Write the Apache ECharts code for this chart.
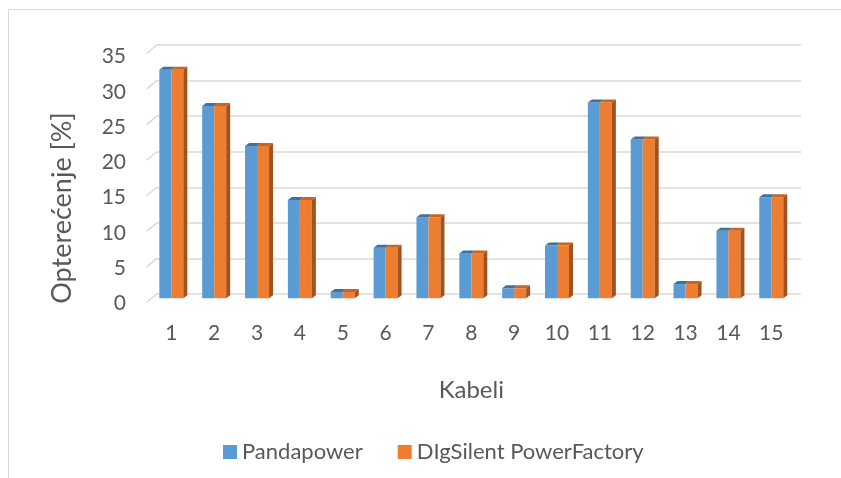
<!DOCTYPE html>
<html>
<head>
<meta charset="utf-8">
<script src="https://cdn.jsdelivr.net/npm/echarts@6/dist/echarts.min.js"></script>
<style>
html,body{margin:0;padding:0;background:#fff;}
#c{width:841px;height:478px;}
</style>
</head>
<body>
<div id="c"></div>
<script>
var categories = ['1','2','3','4','5','6','7','8','9','10','11','12','13','14','15'];
var pandapower = [32.1, 27.0, 21.4, 13.8, 0.9, 7.1, 11.4, 6.3, 1.4, 7.4, 27.5, 22.3, 2.0, 9.5, 14.2];
var digsilent  = [32.1, 27.0, 21.4, 13.8, 0.9, 7.1, 11.4, 6.3, 1.4, 7.4, 27.5, 22.3, 2.0, 9.5, 14.2];
var yTicks = [0, 5, 10, 15, 20, 25, 30, 35];
var seriesNames = ['Pandapower', 'DIgSilent PowerFactory'];

var FONT = 'Lato';
var TXT = '#595959';
var BLUE = '#5B9BD5', BLUE_TOP = '#41719C';
var ORANGE = '#ED7D31', ORANGE_TOP = '#C8641F', ORANGE_SIDE = '#A2521C';
var DX = 4, DY = 3, BW = 12;

var faceData = categories.map(function (c, i) { return [i, pandapower[i], digsilent[i]]; });

var chart = echarts.init(document.getElementById('c'), null, {renderer: 'canvas'});
chart.setOption({
  animation: false,
  backgroundColor: '#fff',
  textStyle: {fontFamily: FONT},
  graphic: [
    {type: 'rect', shape: {x: 8.5, y: 9.5, width: 900, height: 500}, style: {fill: null, stroke: '#d9d9d9', lineWidth: 1}, z: -10},
    {type: 'text', x: 62, y: 208, rotation: Math.PI / 2,
     style: {text: 'Opterećenje [%]', font: '27px ' + FONT, fill: TXT, textAlign: 'center', textVerticalAlign: 'middle'}}
  ],
  legend: {
    data: seriesNames,
    left: 218, top: 436,
    icon: 'rect', itemWidth: 14, itemHeight: 14, itemGap: 35,
    textStyle: {fontFamily: FONT, fontSize: 22, color: TXT}
  },
  grid: [
    {left: 149.9, right: 48.3, top: 49.1, bottom: 179.7},
    {left: 156.7, right: 40, top: 45, bottom: 184},
    {left: 146, right: 40, top: 56.7, bottom: 174.7}
  ],
  xAxis: [
    {gridIndex: 0, type: 'category', data: categories,
     axisLine: {show: false}, axisTick: {show: false},
     axisLabel: {fontFamily: FONT, fontSize: 21, color: TXT, margin: 24},
     name: 'Kabeli', nameLocation: 'middle', nameGap: 80,
     nameTextStyle: {fontFamily: FONT, fontSize: 24, color: TXT}},
    {gridIndex: 1, type: 'value', min: 0, max: 1, show: false},
    {gridIndex: 2, type: 'value', min: 0, max: 1, show: false}
  ],
  yAxis: [
    {gridIndex: 0, type: 'value', min: 0, max: 35, interval: 5, show: false},
    {gridIndex: 1, type: 'value', min: 0, max: 35, interval: 5,
     axisLine: {show: false}, axisTick: {show: false}, axisLabel: {show: false},
     splitLine: {lineStyle: {color: '#d9d9d9', width: 1.5}}},
    {gridIndex: 2, type: 'value', min: 0, max: 35, interval: 5,
     axisLine: {show: false}, axisTick: {show: false}, splitLine: {show: false},
     axisLabel: {fontFamily: FONT, fontSize: 21, color: TXT, margin: 20}}
  ],
  series: [
    {type: 'custom', xAxisIndex: 1, yAxisIndex: 1, silent: true, z: 1,
     data: yTicks,
     renderItem: function (params, api) {
       var p = api.coord([0, api.value(0)]);
       return {type: 'line', shape: {x1: p[0] - 10, y1: p[1] + 8.5, x2: p[0], y2: p[1]},
               style: {stroke: '#d9d9d9', lineWidth: 1.5}};
     }},
    {name: seriesNames[0], type: 'bar', xAxisIndex: 0, yAxisIndex: 0, data: pandapower,
     barWidth: BW, barGap: '0%', itemStyle: {color: BLUE}, z: 3},
    {name: seriesNames[1], type: 'bar', xAxisIndex: 0, yAxisIndex: 0, data: digsilent,
     barWidth: BW, barGap: '0%', itemStyle: {color: ORANGE}, z: 3},
    {type: 'custom', xAxisIndex: 0, yAxisIndex: 0, silent: true, z: 4,
     data: faceData,
     renderItem: function (params, api) {
       var i = api.value(0);
       var pb = api.coord([i, api.value(1)]);
       var po = api.coord([i, api.value(2)]);
       var base = api.coord([i, 0])[1];
       var cx = pb[0];
       function top(x0, x1, y, col) {
         return {type: 'polygon', shape: {points: [[x0, y], [x0 + DX, y - DY], [x1 + DX, y - DY], [x1, y]]},
                 style: {fill: col}};
       }
       var bx0 = cx - BW, bx1 = cx, ox0 = cx, ox1 = cx + BW;
       return {type: 'group', children: [
         top(bx0, bx1, pb[1], BLUE_TOP),
         top(ox0, ox1, po[1], ORANGE_TOP),
         {type: 'polygon', shape: {points: [[ox1, po[1]], [ox1 + DX, po[1] - DY], [ox1 + DX, base - DY], [ox1, base]]},
          style: {fill: ORANGE_SIDE}}
       ]};
     }}
  ]
});
</script>
</body>
</html>
